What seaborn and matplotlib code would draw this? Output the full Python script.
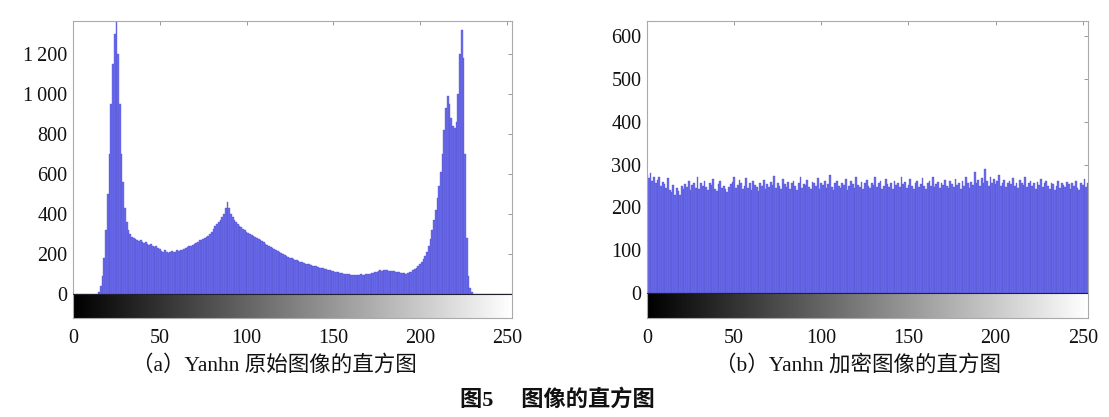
import numpy as np
import pandas as pd
import seaborn as sns
import matplotlib.pyplot as plt
from matplotlib.ticker import FuncFormatter

# gray levels 0..255
levels = list(range(256))

# histogram of the original image
orig_counts = (
    [0] * 15
    + [10, 40, 90, 180, 320, 500, 700, 950, 1150, 1300, 1360, 1200, 950, 700, 560,
       430, 360, 320, 300, 285, 280, 275, 270, 265, 268, 260, 255, 258, 250, 245,
       248, 240, 235, 240, 230, 225, 215, 210, 218, 212, 205, 210, 215, 208, 212,
       218, 215, 222, 220, 225, 230, 235, 240, 238, 245, 250, 255, 262, 268, 270,
       275, 280, 285, 290, 300, 310, 325, 340, 350, 360, 370, 385, 400, 430, 460,
       430, 400, 385, 370, 360, 350, 340, 335, 325, 318, 310, 305, 300, 295, 290,
       285, 282, 275, 270, 265, 258, 252, 245, 240, 235, 230, 225, 220, 215, 210,
       205, 200, 195, 190, 185, 182, 178, 175, 172, 168, 165, 160, 158, 155, 152,
       150, 148, 145, 142, 140, 138, 135, 132, 130, 128, 125, 123, 120, 118, 116,
       115, 112, 110, 108, 106, 104, 102, 100, 100, 98, 96, 95, 96, 94, 95,
       96, 98, 96, 97, 98, 100, 102, 104, 106, 108, 112, 115, 118, 116, 118,
       120, 118, 116, 115, 117, 115, 112, 110, 108, 106, 105, 104, 102, 105, 108,
       112, 118, 125, 132, 140, 150, 160, 175, 190, 210, 240, 275, 320, 370, 420,
       480, 540, 610, 700, 820, 930, 990, 950, 880, 840, 830, 860, 1000, 1200, 1320,
       1180, 700, 280, 90, 30, 8]
    + [0] * 25
)

# histogram of the encrypted image
enc_counts = [
    275, 268, 280, 262, 270, 258, 265, 272, 250, 260, 255, 245, 268, 240, 236, 252,
    230, 245, 238, 228, 250, 242, 255, 248, 262, 240, 252, 258, 246, 270, 244, 256,
    250, 262, 248, 240, 258, 252, 266, 244, 238, 255, 262, 246, 250, 242, 235, 248,
    255, 260, 270, 246, 252, 264, 258, 242, 250, 268, 245, 256, 240, 262, 252, 248,
    238, 256, 250, 264, 242, 255, 247, 260, 252, 274, 245, 258, 250, 242, 266, 254,
    248, 260, 244, 256, 262, 250, 240, 258, 270, 246, 255, 252, 264, 248, 242, 260,
    256, 250, 268, 244, 258, 252, 262, 246, 254, 276, 248, 240, 256, 262, 250, 245,
    258, 252, 266, 240, 250, 262, 255, 245, 270, 252, 248, 260, 244, 256, 264, 250,
    246, 258, 252, 272, 248, 256, 262, 244, 250, 266, 254, 248, 258, 242, 262, 252,
    256, 248, 270, 254, 260, 246, 252, 266, 250, 244, 258, 262, 248, 255, 268, 250,
    244, 256, 262, 250, 272, 248, 254, 260, 246, 258, 252, 264, 250, 245, 262, 255,
    248, 266, 252, 258, 244, 262, 250, 270, 256, 246, 260, 252, 282, 258, 264, 250,
    268, 256, 290, 262, 250, 272, 258, 266, 254, 262, 276, 250, 258, 264, 248, 256,
    262, 254, 268, 250, 258, 246, 264, 256, 252, 270, 248, 258, 262, 250, 256, 244,
    260, 252, 266, 248, 256, 262, 250, 244, 258, 254, 240, 250, 262, 246, 256, 252,
    248, 260, 254, 244, 258, 250, 262, 246, 240, 256, 252, 266, 248, 258, 250, 262,
]

x_ticks = [0, 50, 100, 150, 200, 250]
orig_yticks = [0, 200, 400, 600, 800, 1000, 1200]
enc_yticks = [0, 100, 200, 300, 400, 500, 600]

sub_a = "（a）Yanhn 原始图像的直方图"
sub_b = "（b）Yanhn 加密图像的直方图"
caption = "图5\u3000 图像的直方图"

sns.set_theme(style="white")
plt.rcParams["font.family"] = ["Liberation Serif", "Noto Sans CJK SC", "DejaVu Sans"]

fig = plt.figure(figsize=(11.09, 4.17), dpi=100)
ax_a = fig.add_axes([73 / 1109, 1 - 318 / 417, 439 / 1109, 297 / 417])
ax_b = fig.add_axes([647 / 1109, 1 - 318 / 417, 441 / 1109, 297 / 417])

bar_color = "#6c6cf0"
xmax = 253


def space_thousands(v, pos):
    v = int(round(v))
    if v >= 1000:
        return f"{v // 1000}\u2009{v % 1000:03d}"
    return str(v)


def draw(ax, counts, ylim, yticks):
    df = pd.DataFrame({"level": levels, "count": counts})
    sns.histplot(data=df, x="level", weights="count", bins=256,
                 binrange=(-0.5, 255.5), color=bar_color, alpha=1,
                 edgecolor="#4f4fc4", linewidth=0.25, ax=ax)
    # gray-level strip under the zero line
    grad = np.linspace(0, 1, 256).reshape(1, -1)
    ax.imshow(grad, cmap="gray", aspect="auto",
              extent=(0, xmax, ylim[0], 0), zorder=0.5)
    ax.axhline(0, color="#202030", lw=0.8, zorder=3)
    ax.set_xlim(0, xmax)
    ax.set_ylim(*ylim)
    ax.set_xticks(x_ticks)
    ax.set_yticks(yticks)
    ax.yaxis.set_major_formatter(FuncFormatter(space_thousands))
    ax.set_xlabel("")
    ax.set_ylabel("")
    ax.tick_params(direction="in", length=3, width=0.6, color="#888888",
                   top=True, right=True, labelsize=14.5, labelcolor="#111111")
    ax.tick_params(axis="x", pad=8)
    ax.tick_params(axis="y", pad=4)
    for s in ax.spines.values():
        s.set_color("#aaaaaa")
        s.set_linewidth(0.8)


draw(ax_a, orig_counts, (-120, 1365), orig_yticks)
draw(ax_b, enc_counts, (-58, 635), enc_yticks)

fig.text(274 / 1109, 1 - 365 / 417, sub_a, ha="center", va="center",
         fontsize=15.5, color="#111111")
fig.text(858 / 1109, 1 - 365 / 417, sub_b, ha="center", va="center",
         fontsize=15.5, color="#111111")
fig.text(557 / 1109, 1 - 400 / 417, caption, ha="center", va="center",
         fontsize=16, fontweight="bold", color="#111111")

fig.savefig("out.png", dpi=100)
